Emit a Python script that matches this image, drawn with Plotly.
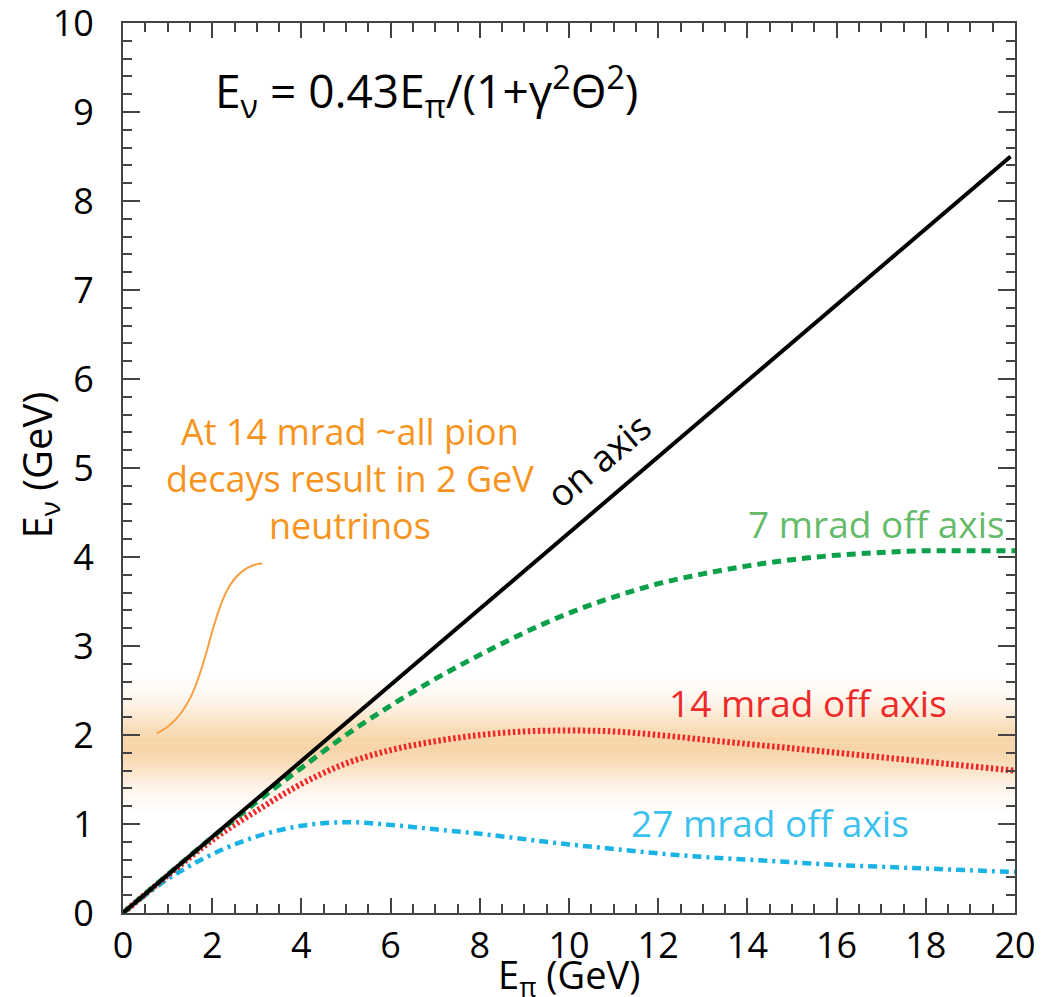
import numpy as np
import plotly.graph_objects as go

# ---- data ----
e_pi = [0, 1, 2, 3, 4, 5, 6, 7, 8, 9, 10, 11, 12, 13, 14, 15, 16, 17, 18, 19, 20]
on_axis_x = [0, 19.9]
on_axis_y = [0, 8.5]
mrad7 = [0, 0.43, 0.85, 1.25, 1.63, 2.0, 2.33, 2.63, 2.9, 3.15, 3.37, 3.55, 3.7,
         3.81, 3.9, 3.97, 4.02, 4.05, 4.07, 4.07, 4.07]
mrad14 = [0, 0.42, 0.82, 1.15, 1.45, 1.68, 1.83, 1.93, 2.0, 2.04, 2.05, 2.04, 2.0,
          1.95, 1.9, 1.85, 1.8, 1.75, 1.7, 1.65, 1.6]
mrad27 = [0, 0.38, 0.66, 0.86, 0.98, 1.02, 0.99, 0.94, 0.89, 0.83, 0.77, 0.72, 0.67,
          0.63, 0.6, 0.57, 0.54, 0.52, 0.5, 0.48, 0.46]
band_center = 1.88
band_halfwidth = 0.75

FONT = "Open Sans"
fig = go.Figure()

# orange gradient band (stacked thin rectangles)
n = 60
edges = np.linspace(band_center - band_halfwidth, band_center + band_halfwidth, n + 1)
for i in range(n):
    mid = 0.5 * (edges[i] + edges[i + 1])
    a = 0.45 * np.exp(-0.5 * ((mid - band_center) / 0.29) ** 2)
    fig.add_shape(type="rect", xref="x", yref="y", x0=0, x1=20, y0=edges[i], y1=edges[i + 1],
                  fillcolor=f"rgba(238,160,60,{a:.3f})", line=dict(width=0), layer="below")

fig.add_trace(go.Scatter(x=e_pi, y=mrad27, mode="lines",
                         line=dict(color="#19b3e6", width=4.5, dash="9px,5px,3px,5px"),
                         line_shape="spline", showlegend=False))
fig.add_trace(go.Scatter(x=e_pi, y=mrad14, mode="lines",
                         line=dict(color="#f02828", width=6, dash="2.5px,2.5px"),
                         line_shape="spline", showlegend=False))
fig.add_trace(go.Scatter(x=e_pi, y=mrad7, mode="lines",
                         line=dict(color="#0aa14a", width=5, dash="9px,6px"),
                         line_shape="spline", showlegend=False))
fig.add_trace(go.Scatter(x=on_axis_x, y=on_axis_y, mode="lines", line=dict(color="black", width=4),
                         showlegend=False))

# orange connector curve
fig.add_shape(type="path", xref="x", yref="y",
              path="M 0.76,2.02 C 2.2,2.35 1.7,3.85 3.12,3.93",
              line=dict(color="#f7a040", width=2))

ann = [
    dict(x=6.8, y=9.24, text="E<sub>ν</sub> = 0.43E<sub>π</sub>/(1+γ<sup>2</sup>Θ<sup>2</sup>)",
         font=dict(size=46, color="black")),
    dict(x=10.65, y=5.1, text="on axis", textangle=-40, font=dict(size=37, color="black")),
    dict(x=16.9, y=4.38, text="7 mrad off axis", font=dict(size=37, color="#66bb6a")),
    dict(x=15.35, y=2.36, text="14 mrad off axis", font=dict(size=37, color="#ee2a2a")),
    dict(x=14.5, y=1.02, text="27 mrad off axis", font=dict(size=37, color="#3cc0ee")),
    dict(x=5.09, y=4.88, text="At 14 mrad ~all pion<br>decays result in 2 GeV<br>neutrinos",
         font=dict(size=36, color="#f7941e")),
]
for a in ann:
    fig.add_annotation(xref="x", yref="y", showarrow=False, **a)

# axis titles
fig.add_annotation(xref="paper", yref="paper", x=0.5, y=-0.071, yanchor="middle", showarrow=False,
                   text="E<sub>π</sub> (GeV)", font=dict(size=38, color="black"))
fig.add_annotation(xref="paper", yref="paper", x=-0.095, y=0.503, xanchor="center", yanchor="middle",
                   textangle=-90, showarrow=False,
                   text="E<sub>ν</sub> (GeV)", font=dict(size=40, color="black"))

axis_common = dict(showgrid=False, zeroline=False, showline=True, linecolor="#444", linewidth=2,
                   mirror="ticks", ticks="inside", tickcolor="#444", tickwidth=2,
                   tickfont=dict(size=36, color="black"), automargin=False,
                   ticklabeloverflow="allow")
fig.update_xaxes(range=[0, 20], tick0=0, dtick=2, ticklen=15,
                 minor=dict(dtick=0.5, ticks="inside", ticklen=9, tickcolor="#444", tickwidth=2),
                 **axis_common)
fig.update_yaxes(range=[0, 10], tick0=0, dtick=1, ticklen=17, ticklabelstandoff=20,
                 minor=dict(dtick=0.2, ticks="inside", ticklen=9, tickcolor="#444", tickwidth=2),
                 **axis_common)

fig.update_layout(width=1048, height=997, margin=dict(l=115, r=41, t=15, b=92),
                  plot_bgcolor="white", paper_bgcolor="white",
                  font=dict(family=FONT, color="black"))
fig.write_html("out.html")
